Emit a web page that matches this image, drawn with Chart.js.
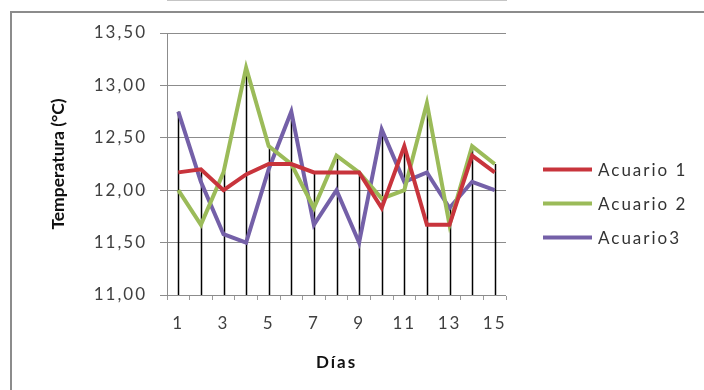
<!DOCTYPE html>
<html>
<head>
<meta charset="utf-8">
<script src="https://cdn.jsdelivr.net/npm/chart.js@4/dist/chart.umd.min.js"></script>
<style>
  html, body { margin: 0; padding: 0; background: #fff; overflow: hidden; }
  canvas { display: block; }
</style>
</head>
<body>
<canvas id="chart" width="704" height="390"></canvas>
<script>
// Daily water temperature (°C) in three aquariums over 15 days
const days = ['1','2','3','4','5','6','7','8','9','10','11','12','13','14','15'];
const acuario1 = [12.17, 12.20, 12.00, 12.15, 12.25, 12.25, 12.17, 12.17, 12.17, 11.83, 12.42, 11.67, 11.67, 12.33, 12.17];
const acuario2 = [12.00, 11.67, 12.17, 13.17, 12.42, 12.25, 11.83, 12.33, 12.17, 11.92, 12.00, 12.83, 11.67, 12.42, 12.25];
const acuario3 = [12.75, 12.08, 11.58, 11.50, 12.20, 12.75, 11.67, 12.00, 11.50, 12.58, 12.08, 12.17, 11.83, 12.08, 12.00];
const seriesNames = ['Acuario 1', 'Acuario 2', 'Acuario3'];
const seriesColors = ['#C8343C', '#9BBB59', '#7460A8'];
const yMin = 11, yMax = 13.5, yStep = 0.5;
const xTitle = 'Días';
const yTitle = 'Temperatura (°C)';

const FONT = 'Lato, "Open Sans", sans-serif';
const SPACING = '2px';

// Outer frame and text tracking: the y-axis title is drawn plain,
// everything drawn after the grid layer gets wider tracking
const framePlugin = {
  id: 'outerFrame',
  beforeDraw(chart) {
    const ctx = chart.ctx;
    ctx.letterSpacing = '0px';
    ctx.save();
    ctx.fillStyle = '#fff';
    ctx.fillRect(0, 0, chart.width, chart.height);
    ctx.fillStyle = '#8c8c8c';
    ctx.fillRect(10, 11, 2, chart.height);
    ctx.fillRect(10, 11, chart.width, 2);
    ctx.restore();
  },
  beforeDatasetsDraw(chart) { chart.ctx.letterSpacing = SPACING; }
};

// Drop lines from the highest value of each day down to the category axis
const dropLines = {
  id: 'dropLines',
  beforeDatasetsDraw(chart) {
    const {ctx, scales: {x, y}, chartArea} = chart;
    const sets = chart.data.datasets;
    ctx.save();
    ctx.strokeStyle = '#000';
    ctx.lineWidth = 1.5;
    for (let i = 0; i < days.length; i++) {
      const top = Math.max(...sets.map(d => d.data[i]));
      const px = Math.round(x.getPixelForValue(i)) + 0.5;
      ctx.beginPath();
      ctx.moveTo(px, y.getPixelForValue(top));
      ctx.lineTo(px, chartArea.bottom);
      ctx.stroke();
    }
    ctx.restore();
  }
};

// Legend to the right of the plot
const sideLegend = {
  id: 'sideLegend',
  afterDraw(chart) {
    const ctx = chart.ctx;
    ctx.save();
    ctx.letterSpacing = SPACING;
    ctx.font = '17px ' + FONT;
    ctx.textBaseline = 'middle';
    ctx.textAlign = 'left';
    chart.data.datasets.forEach((ds, i) => {
      const yy = 169.5 + i * 34;
      ctx.strokeStyle = ds.borderColor;
      ctx.lineWidth = 4;
      ctx.beginPath();
      ctx.moveTo(543, yy);
      ctx.lineTo(592, yy);
      ctx.stroke();
      ctx.fillStyle = '#333';
      ctx.fillText(ds.label, 598, yy + 1);
    });
    ctx.restore();
  }
};

const datasets = [acuario1, acuario2, acuario3].map((vals, i) => ({
  label: seriesNames[i],
  data: vals,
  borderColor: seriesColors[i],
  backgroundColor: seriesColors[i],
  borderWidth: 4,
  pointRadius: 0,
  tension: 0,
  fill: false
}));

new Chart(document.getElementById('chart'), {
  type: 'line',
  data: { labels: days, datasets },
  options: {
    responsive: false,
    animation: false,
    devicePixelRatio: 1,
    layout: { padding: { left: 40, top: 33, right: 198, bottom: 0 } },
    plugins: { legend: { display: false }, tooltip: { enabled: false } },
    scales: {
      x: {
        offset: true,
        afterFit(s) { s.height = 95; },
        grid: { display: true, drawOnChartArea: false, offset: true, tickLength: 5, color: '#9a9a9a', z: 1 },
        border: { color: '#8c8c8c', width: 1 },
        ticks: {
          z: 1, autoSkip: false, maxRotation: 0, padding: 13,
          color: '#404040', font: { family: FONT, size: 17 },
          callback(v, i) { return i % 2 === 0 ? days[i] : ''; }
        },
        title: { display: true, text: xTitle, color: '#111', padding: { top: 0, bottom: 17 },
                 font: { family: FONT, size: 17, weight: 'bold' } }
      },
      y: {
        min: yMin, max: yMax,
        afterFit(s) { s.width = 127; },
        grid: { color: '#8c8c8c', tickLength: 7, lineWidth: 1 },
        border: { color: '#8c8c8c', width: 1 },
        ticks: {
          z: 1, stepSize: yStep, padding: 13,
          color: '#404040', font: { family: FONT, size: 17 },
          callback(v) { return v.toFixed(2).replace('.', ','); }
        },
        title: { display: true, text: yTitle, color: '#111', padding: { top: 8, bottom: 0 },
                 font: { family: FONT, size: 17.5, weight: 'bold' } }
      }
    }
  },
  plugins: [framePlugin, dropLines, sideLegend]
});
</script>
</body>
</html>
